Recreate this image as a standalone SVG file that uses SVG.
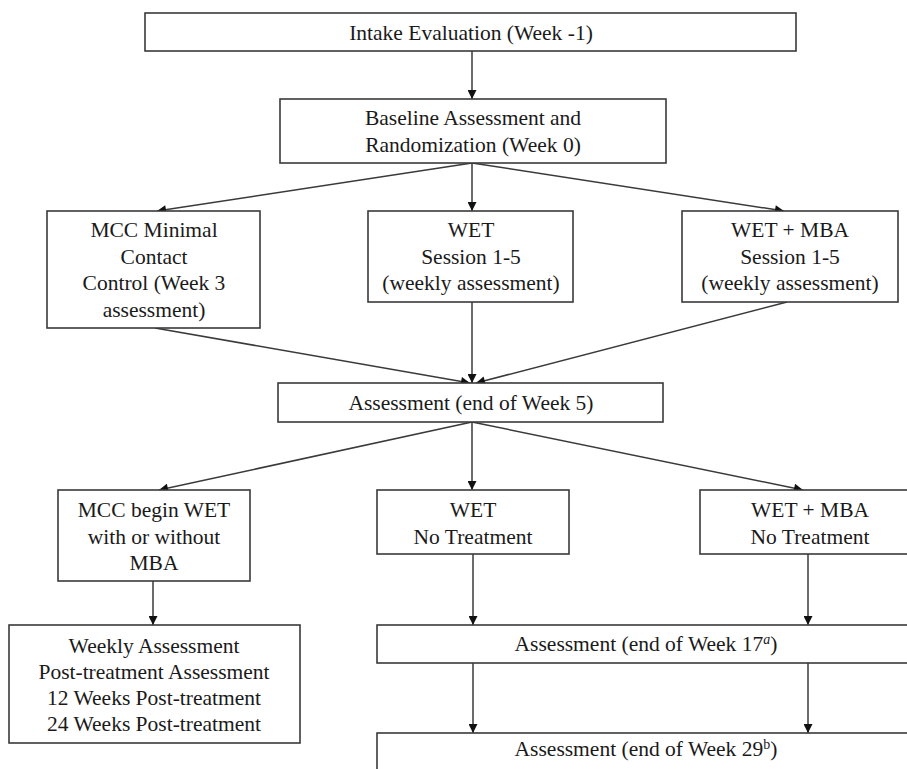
<svg xmlns="http://www.w3.org/2000/svg" width="907" height="769" viewBox="0 0 907 769">
<style>
  .box { fill: #ffffff; stroke: #3a3a3a; stroke-width: 1.6; }
  .t { font-size: 21.5px; fill: #1a1a1a; text-anchor: middle; }
  .c { stroke: #3a3a3a; stroke-width: 1.5; fill: none; marker-end: url(#ah); }
  .sup { font-size: 14px; }
</style>
<defs>
  <marker id="ah" viewBox="0 0 10 10" refX="10" refY="5" markerWidth="10" markerHeight="9" markerUnits="userSpaceOnUse" orient="auto">
    <path d="M0,0 L10,5 L0,10 Z" fill="#111"/>
  </marker>
</defs>
<rect width="907" height="769" fill="#ffffff"/>

<g id="connectors">
  <line class="c" x1="472" y1="51" x2="472" y2="99"/>
  <line class="c" x1="472" y1="163" x2="157" y2="211"/>
  <line class="c" x1="472" y1="163" x2="472" y2="211"/>
  <line class="c" x1="472" y1="163" x2="784" y2="211"/>
  <line class="c" x1="155" y1="328" x2="470" y2="383"/>
  <line class="c" x1="472" y1="302" x2="472" y2="383"/>
  <line class="c" x1="787" y1="302" x2="476" y2="383"/>
  <line class="c" x1="472" y1="422" x2="159" y2="490"/>
  <line class="c" x1="472" y1="422" x2="472" y2="490"/>
  <line class="c" x1="472" y1="422" x2="803" y2="490"/>
  <line class="c" x1="153" y1="581" x2="153" y2="625"/>
  <line class="c" x1="473" y1="554" x2="473" y2="625"/>
  <line class="c" x1="808" y1="554" x2="808" y2="625"/>
  <line class="c" x1="473" y1="663" x2="473" y2="733"/>
  <line class="c" x1="808" y1="663" x2="808" y2="733"/>
</g>

<g font-family="Liberation Serif, Tinos, Times New Roman, Times, DejaVu Serif, serif">
<g id="intake">
  <rect class="box" x="145" y="13" width="651" height="38"/>
  <text class="t" x="471" y="40">Intake Evaluation (Week -1)</text>
</g>

<g id="baseline">
  <rect class="box" x="280" y="99" width="386" height="64"/>
  <text class="t" x="473" y="125">Baseline Assessment and</text>
  <text class="t" x="473" y="152">Randomization (Week 0)</text>
</g>

<g id="mcc">
  <rect class="box" x="47" y="211" width="213" height="117"/>
  <text class="t" x="154" y="237">MCC Minimal</text>
  <text class="t" x="154" y="264">Contact</text>
  <text class="t" x="154" y="290">Control (Week 3</text>
  <text class="t" x="154" y="317">assessment)</text>
</g>

<g id="wet">
  <rect class="box" x="368" y="211" width="205" height="91"/>
  <text class="t" x="471" y="237">WET</text>
  <text class="t" x="471" y="264">Session 1-5</text>
  <text class="t" x="471" y="290">(weekly assessment)</text>
</g>

<g id="wetmba">
  <rect class="box" x="682" y="211" width="216" height="91"/>
  <text class="t" x="790" y="237">WET + MBA</text>
  <text class="t" x="790" y="264">Session 1-5</text>
  <text class="t" x="790" y="290">(weekly assessment)</text>
</g>

<g id="week5">
  <rect class="box" x="278" y="383" width="385" height="39"/>
  <text class="t" x="471" y="410">Assessment (end of Week 5)</text>
</g>

<g id="mccbegin">
  <rect class="box" x="58" y="490" width="192" height="91"/>
  <text class="t" x="154" y="517">MCC begin WET</text>
  <text class="t" x="154" y="544">with or without</text>
  <text class="t" x="154" y="570">MBA</text>
</g>

<g id="wetnotx">
  <rect class="box" x="377" y="490" width="192" height="64"/>
  <text class="t" x="473" y="517">WET</text>
  <text class="t" x="473" y="544">No Treatment</text>
</g>

<g id="wetmbanotx">
  <rect class="box" x="700" y="490" width="220" height="64"/>
  <text class="t" x="810" y="517">WET + MBA</text>
  <text class="t" x="810" y="544">No Treatment</text>
</g>

<g id="weekly">
  <rect class="box" x="9" y="625" width="291" height="118"/>
  <text class="t" x="154" y="653">Weekly Assessment</text>
  <text class="t" x="154" y="679">Post-treatment Assessment</text>
  <text class="t" x="154" y="705">12 Weeks Post-treatment</text>
  <text class="t" x="154" y="731">24 Weeks Post-treatment</text>
</g>

<g id="week17">
  <rect class="box" x="377" y="625" width="540" height="38"/>
  <text class="t" x="646" y="651">Assessment (end of Week 17<tspan class="sup" dy="-7" font-style="italic">a</tspan><tspan dy="7">)</tspan></text>
</g>

<g id="week29">
  <rect class="box" x="377" y="733" width="540" height="50"/>
  <text class="t" x="646" y="756">Assessment (end of Week 29<tspan class="sup" dy="-7">b</tspan><tspan dy="7">)</tspan></text>
</g>
</g>
</svg>
